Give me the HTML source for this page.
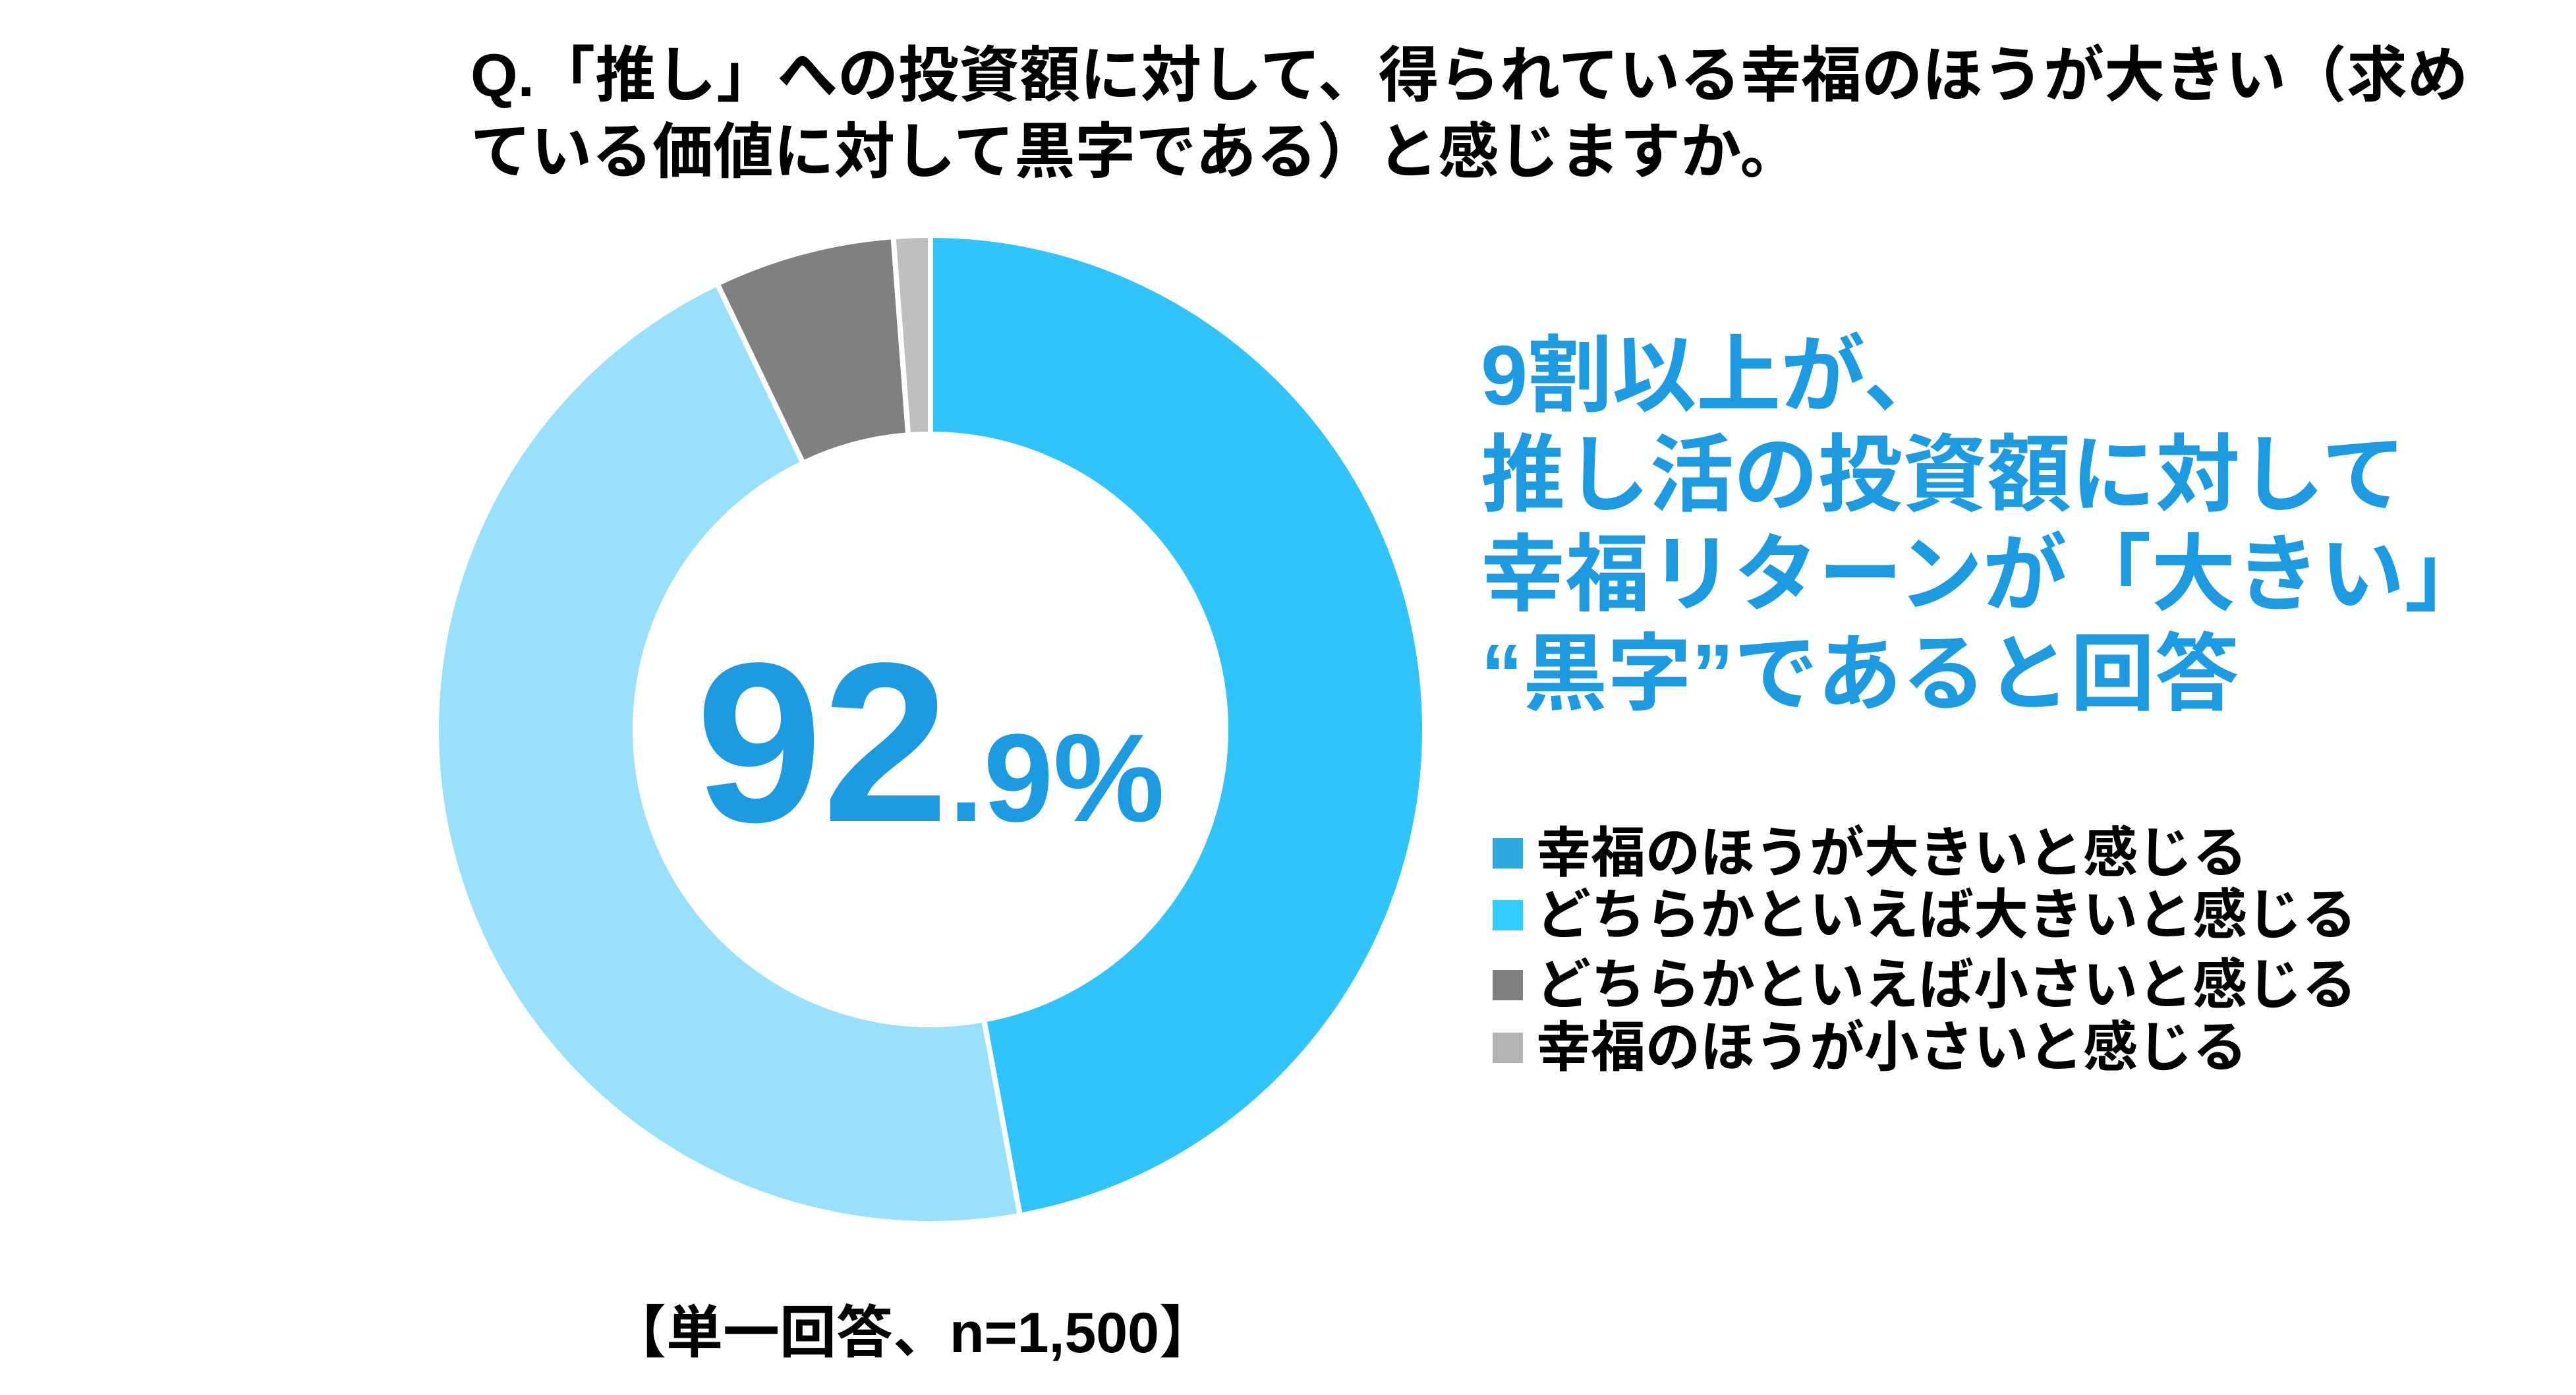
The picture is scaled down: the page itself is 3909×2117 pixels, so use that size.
<!DOCTYPE html>
<html><head><meta charset="utf-8"><style>
html,body{margin:0;padding:0;background:#fff;}
svg{display:block;}
text{font-family:"Liberation Sans","Noto Sans CJK JP",sans-serif;font-weight:bold;}
</style></head><body>
<svg width="3909" height="2117" viewBox="0 0 3909 2117" xmlns="http://www.w3.org/2000/svg">
<rect width="3909" height="2117" fill="#fff"/>
<text x="714" y="146" font-size="92" fill="#000">Q.「推し」への投資額に対して、得られている幸福のほうが大きい（求め</text>
<text x="714" y="262" font-size="92" fill="#000">ている価値に対して黒字である）と感じますか。</text>
<g stroke="#fff" stroke-width="8">
<path id="s1" fill="#31C4FA"/>
<path id="s2" fill="#99E0FC"/>
<path id="s3" fill="#808080"/>
<path id="s4" fill="#BFBFBF"/>
</g>
<text x="1056" y="1246" font-size="345" fill="#1E9AE0" font-family="Liberation Sans, sans-serif">92<tspan font-size="190">.9%</tspan></text>
<g fill="#1E9AE0" font-size="128">
<text x="2247" y="614">9割以上が、</text>
<text x="2247" y="765">推し活の投資額に対して</text>
<text x="2247" y="916">幸福リターンが「大きい」</text>
<text x="2247" y="1067">“黒字”であると回答</text>
</g>
<rect x="2265" y="1272" width="46" height="46" fill="#2DA9DF"/>
<rect x="2265" y="1366" width="46" height="46" fill="#33CCFF"/>
<rect x="2265" y="1472" width="46" height="46" fill="#808080"/>
<rect x="2265" y="1567" width="46" height="46" fill="#B3B3B3"/>
<g fill="#000" font-size="83">
<text x="2331" y="1323">幸福のほうが大きいと感じる</text>
<text x="2331" y="1417">どちらかといえば大きいと感じる</text>
<text x="2331" y="1523">どちらかといえば小さいと感じる</text>
<text x="2331" y="1618">幸福のほうが小さいと感じる</text>
</g>
<text x="925" y="2052" font-size="86" fill="#000">【単一回答、n=1,500】</text>
<script>
(function(){
var cx=1412,cy=1107,R=750,r=448;
var v=[47.1,45.8,5.9,1.2];var a=0;
function pt(rad,f){var t=f*2*Math.PI;return [cx+rad*Math.sin(t),cy-rad*Math.cos(t)];}
for(var i=0;i<4;i++){var f0=a/100,f1=(a+v[i])/100;a+=v[i];
var lg=(f1-f0)>0.5?1:0;var p0=pt(R,f0),p1=pt(R,f1),q1=pt(r,f1),q0=pt(r,f0);
var d="M"+p0+" A"+R+","+R+" 0 "+lg+" 1 "+p1+" L"+q1+" A"+r+","+r+" 0 "+lg+" 0 "+q0+" Z";
document.getElementById("s"+(i+1)).setAttribute("d",d);}
})();
</script>
</svg>
</body></html>
